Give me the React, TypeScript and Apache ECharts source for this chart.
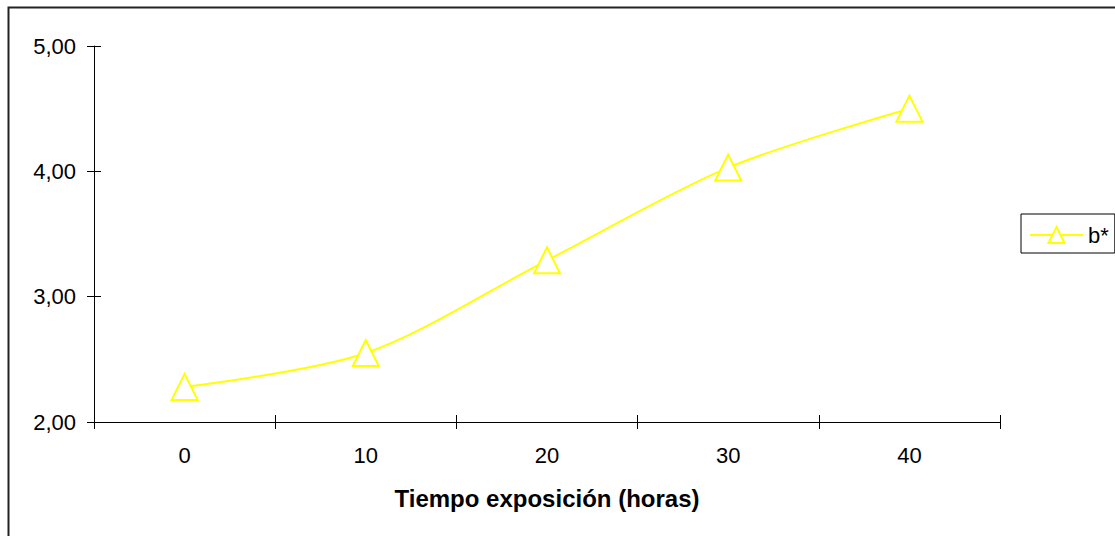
import React, { useEffect, useRef } from "react";
import * as echarts from "echarts";

const categories = ["0", "10", "20", "30", "40"];
const bValues = [2.28, 2.55, 3.29, 4.03, 4.5];
const seriesName = "b*";
const xTitle = "Tiempo exposición (horas)";
const yMin = 2;
const yMax = 5;
const yInterval = 1;

const FONT = "'Liberation Sans', Arial, sans-serif";
const fmt = (v: number) => v.toFixed(2).replace(".", ",");

export default function App() {
  const ref = useRef<HTMLDivElement>(null);
  useEffect(() => {
    document.body.style.margin = "0";
    const chart = echarts.init(ref.current!, null, { renderer: "svg" });
    const baseX = {
      type: "category" as const,
      data: categories,
      boundaryGap: true,
      position: "bottom" as const,
      gridIndex: 0,
    };
    const baseY = {
      type: "value" as const,
      min: yMin,
      max: yMax,
      interval: yInterval,
      position: "left" as const,
      gridIndex: 0,
      splitLine: { show: false },
    };
    chart.setOption({
      animation: false,
      backgroundColor: "#fff",
      textStyle: { fontFamily: FONT },
      grid: { left: 94, right: 115, top: 46, bottom: 114 },
      xAxis: [
        {
          ...baseX,
          axisLine: { show: true, lineStyle: { color: "#000", width: 1 } },
          axisTick: { show: true, inside: false, length: 7, lineStyle: { color: "#000" } },
          axisLabel: { show: true, color: "#000", fontSize: 22, fontFamily: FONT, margin: 22 },
          name: xTitle,
          nameLocation: "middle",
          nameGap: 64,
          nameTextStyle: { color: "#000", fontSize: 24, fontWeight: "bold", fontFamily: FONT },
        },
        {
          ...baseX,
          axisLine: { show: false },
          axisTick: { show: true, inside: true, length: 7, lineStyle: { color: "#000" } },
          axisLabel: { show: false },
        },
      ],
      yAxis: [
        {
          ...baseY,
          axisLine: { show: true, lineStyle: { color: "#000", width: 1 } },
          axisTick: { show: true, inside: false, length: 7, lineStyle: { color: "#000" } },
          axisLabel: { show: true, color: "#000", fontSize: 22, fontFamily: FONT, margin: 18, formatter: fmt },
        },
        {
          ...baseY,
          axisLine: { show: false },
          axisTick: { show: true, inside: true, length: 7, lineStyle: { color: "#000" } },
          axisLabel: { show: false },
        },
      ],
      legend: {
        left: 1021,
        top: 214,
        orient: "vertical",
        borderColor: "#000",
        borderWidth: 1,
        padding: [10, 6, 7, 8],
        itemWidth: 53,
        itemHeight: 20,
        itemGap: 0,
        textStyle: { color: "#000", fontSize: 22, fontFamily: FONT, padding: [0, 0, 0, 0] },
        data: [seriesName],
      },
      graphic: [
        {
          type: "rect",
          shape: { x: 8.5, y: 7.5, width: 1300, height: 700 },
          style: { fill: "none", stroke: "#222", lineWidth: 2 },
          silent: true,
          z: 100,
        },
      ],
      series: [
        {
          name: seriesName,
          type: "line",
          xAxisIndex: 0,
          yAxisIndex: 0,
          data: bValues,
          smooth: 0.3,
          symbol: "triangle",
          symbolSize: [26, 26],
          showAllSymbol: true,
          lineStyle: { color: "#ffff00", width: 2 },
          itemStyle: { color: "#ffffff", borderColor: "#ffff00", borderWidth: 2 },
          emphasis: { disabled: true },
        },
      ],
    });
    return () => chart.dispose();
  }, []);
  return <div ref={ref} style={{ width: 1115, height: 536 }} />;
}
